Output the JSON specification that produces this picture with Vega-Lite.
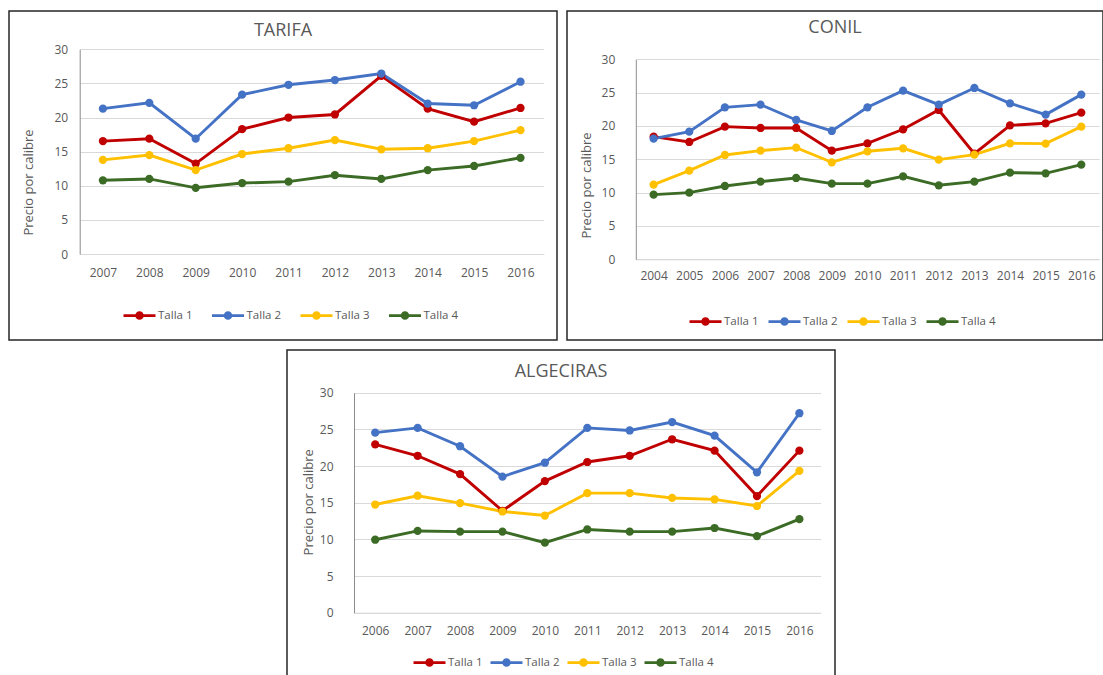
{
  "$schema": "https://vega.github.io/schema/vega-lite/v6.json",
  "padding": {"left": 8, "top": 10, "right": 0, "bottom": 0},
  "background": "white",
  "spacing": 8,
  "resolve": {"scale": {"x": "independent", "y": "independent", "color": "independent"}, "legend": {"color": "independent"}},
  "datasets": {
    "rows": [
      {"site": "TARIFA", "year": "2007", "talla": "Talla 1", "precio": 16.55},
      {"site": "TARIFA", "year": "2008", "talla": "Talla 1", "precio": 16.9},
      {"site": "TARIFA", "year": "2009", "talla": "Talla 1", "precio": 13.25},
      {"site": "TARIFA", "year": "2010", "talla": "Talla 1", "precio": 18.3},
      {"site": "TARIFA", "year": "2011", "talla": "Talla 1", "precio": 20.0},
      {"site": "TARIFA", "year": "2012", "talla": "Talla 1", "precio": 20.45},
      {"site": "TARIFA", "year": "2013", "talla": "Talla 1", "precio": 26.1},
      {"site": "TARIFA", "year": "2014", "talla": "Talla 1", "precio": 21.3},
      {"site": "TARIFA", "year": "2015", "talla": "Talla 1", "precio": 19.4},
      {"site": "TARIFA", "year": "2016", "talla": "Talla 1", "precio": 21.4},
      {"site": "TARIFA", "year": "2007", "talla": "Talla 2", "precio": 21.3},
      {"site": "TARIFA", "year": "2008", "talla": "Talla 2", "precio": 22.15},
      {"site": "TARIFA", "year": "2009", "talla": "Talla 2", "precio": 16.9},
      {"site": "TARIFA", "year": "2010", "talla": "Talla 2", "precio": 23.35},
      {"site": "TARIFA", "year": "2011", "talla": "Talla 2", "precio": 24.8},
      {"site": "TARIFA", "year": "2012", "talla": "Talla 2", "precio": 25.5},
      {"site": "TARIFA", "year": "2013", "talla": "Talla 2", "precio": 26.45},
      {"site": "TARIFA", "year": "2014", "talla": "Talla 2", "precio": 22.05},
      {"site": "TARIFA", "year": "2015", "talla": "Talla 2", "precio": 21.8},
      {"site": "TARIFA", "year": "2016", "talla": "Talla 2", "precio": 25.25},
      {"site": "TARIFA", "year": "2007", "talla": "Talla 3", "precio": 13.8},
      {"site": "TARIFA", "year": "2008", "talla": "Talla 3", "precio": 14.5},
      {"site": "TARIFA", "year": "2009", "talla": "Talla 3", "precio": 12.3},
      {"site": "TARIFA", "year": "2010", "talla": "Talla 3", "precio": 14.65},
      {"site": "TARIFA", "year": "2011", "talla": "Talla 3", "precio": 15.5},
      {"site": "TARIFA", "year": "2012", "talla": "Talla 3", "precio": 16.7},
      {"site": "TARIFA", "year": "2013", "talla": "Talla 3", "precio": 15.35},
      {"site": "TARIFA", "year": "2014", "talla": "Talla 3", "precio": 15.5},
      {"site": "TARIFA", "year": "2015", "talla": "Talla 3", "precio": 16.55},
      {"site": "TARIFA", "year": "2016", "talla": "Talla 3", "precio": 18.15},
      {"site": "TARIFA", "year": "2007", "talla": "Talla 4", "precio": 10.8},
      {"site": "TARIFA", "year": "2008", "talla": "Talla 4", "precio": 11.0},
      {"site": "TARIFA", "year": "2009", "talla": "Talla 4", "precio": 9.7},
      {"site": "TARIFA", "year": "2010", "talla": "Talla 4", "precio": 10.4},
      {"site": "TARIFA", "year": "2011", "talla": "Talla 4", "precio": 10.6},
      {"site": "TARIFA", "year": "2012", "talla": "Talla 4", "precio": 11.55},
      {"site": "TARIFA", "year": "2013", "talla": "Talla 4", "precio": 11.0},
      {"site": "TARIFA", "year": "2014", "talla": "Talla 4", "precio": 12.3},
      {"site": "TARIFA", "year": "2015", "talla": "Talla 4", "precio": 12.9},
      {"site": "TARIFA", "year": "2016", "talla": "Talla 4", "precio": 14.1},

      {"site": "CONIL", "year": "2004", "talla": "Talla 1", "precio": 18.4},
      {"site": "CONIL", "year": "2005", "talla": "Talla 1", "precio": 17.6},
      {"site": "CONIL", "year": "2006", "talla": "Talla 1", "precio": 19.9},
      {"site": "CONIL", "year": "2007", "talla": "Talla 1", "precio": 19.7},
      {"site": "CONIL", "year": "2008", "talla": "Talla 1", "precio": 19.7},
      {"site": "CONIL", "year": "2009", "talla": "Talla 1", "precio": 16.3},
      {"site": "CONIL", "year": "2010", "talla": "Talla 1", "precio": 17.4},
      {"site": "CONIL", "year": "2011", "talla": "Talla 1", "precio": 19.5},
      {"site": "CONIL", "year": "2012", "talla": "Talla 1", "precio": 22.4},
      {"site": "CONIL", "year": "2013", "talla": "Talla 1", "precio": 15.85},
      {"site": "CONIL", "year": "2014", "talla": "Talla 1", "precio": 20.1},
      {"site": "CONIL", "year": "2015", "talla": "Talla 1", "precio": 20.4},
      {"site": "CONIL", "year": "2016", "talla": "Talla 1", "precio": 22.0},
      {"site": "CONIL", "year": "2004", "talla": "Talla 2", "precio": 18.1},
      {"site": "CONIL", "year": "2005", "talla": "Talla 2", "precio": 19.15},
      {"site": "CONIL", "year": "2006", "talla": "Talla 2", "precio": 22.8},
      {"site": "CONIL", "year": "2007", "talla": "Talla 2", "precio": 23.2},
      {"site": "CONIL", "year": "2008", "talla": "Talla 2", "precio": 20.9},
      {"site": "CONIL", "year": "2009", "talla": "Talla 2", "precio": 19.25},
      {"site": "CONIL", "year": "2010", "talla": "Talla 2", "precio": 22.8},
      {"site": "CONIL", "year": "2011", "talla": "Talla 2", "precio": 25.3},
      {"site": "CONIL", "year": "2012", "talla": "Talla 2", "precio": 23.2},
      {"site": "CONIL", "year": "2013", "talla": "Talla 2", "precio": 25.7},
      {"site": "CONIL", "year": "2014", "talla": "Talla 2", "precio": 23.4},
      {"site": "CONIL", "year": "2015", "talla": "Talla 2", "precio": 21.7},
      {"site": "CONIL", "year": "2016", "talla": "Talla 2", "precio": 24.7},
      {"site": "CONIL", "year": "2004", "talla": "Talla 3", "precio": 11.2},
      {"site": "CONIL", "year": "2005", "talla": "Talla 3", "precio": 13.3},
      {"site": "CONIL", "year": "2006", "talla": "Talla 3", "precio": 15.65},
      {"site": "CONIL", "year": "2007", "talla": "Talla 3", "precio": 16.3},
      {"site": "CONIL", "year": "2008", "talla": "Talla 3", "precio": 16.75},
      {"site": "CONIL", "year": "2009", "talla": "Talla 3", "precio": 14.55},
      {"site": "CONIL", "year": "2010", "talla": "Talla 3", "precio": 16.2},
      {"site": "CONIL", "year": "2011", "talla": "Talla 3", "precio": 16.65},
      {"site": "CONIL", "year": "2012", "talla": "Talla 3", "precio": 14.95},
      {"site": "CONIL", "year": "2013", "talla": "Talla 3", "precio": 15.7},
      {"site": "CONIL", "year": "2014", "talla": "Talla 3", "precio": 17.4},
      {"site": "CONIL", "year": "2015", "talla": "Talla 3", "precio": 17.35},
      {"site": "CONIL", "year": "2016", "talla": "Talla 3", "precio": 19.9},
      {"site": "CONIL", "year": "2004", "talla": "Talla 4", "precio": 9.7},
      {"site": "CONIL", "year": "2005", "talla": "Talla 4", "precio": 10.0},
      {"site": "CONIL", "year": "2006", "talla": "Talla 4", "precio": 11.0},
      {"site": "CONIL", "year": "2007", "talla": "Talla 4", "precio": 11.65},
      {"site": "CONIL", "year": "2008", "talla": "Talla 4", "precio": 12.2},
      {"site": "CONIL", "year": "2009", "talla": "Talla 4", "precio": 11.35},
      {"site": "CONIL", "year": "2010", "talla": "Talla 4", "precio": 11.35},
      {"site": "CONIL", "year": "2011", "talla": "Talla 4", "precio": 12.45},
      {"site": "CONIL", "year": "2012", "talla": "Talla 4", "precio": 11.1},
      {"site": "CONIL", "year": "2013", "talla": "Talla 4", "precio": 11.65},
      {"site": "CONIL", "year": "2014", "talla": "Talla 4", "precio": 13.0},
      {"site": "CONIL", "year": "2015", "talla": "Talla 4", "precio": 12.9},
      {"site": "CONIL", "year": "2016", "talla": "Talla 4", "precio": 14.2},

      {"site": "ALGECIRAS", "year": "2006", "talla": "Talla 1", "precio": 22.95},
      {"site": "ALGECIRAS", "year": "2007", "talla": "Talla 1", "precio": 21.4},
      {"site": "ALGECIRAS", "year": "2008", "talla": "Talla 1", "precio": 18.9},
      {"site": "ALGECIRAS", "year": "2009", "talla": "Talla 1", "precio": 13.9},
      {"site": "ALGECIRAS", "year": "2010", "talla": "Talla 1", "precio": 17.95},
      {"site": "ALGECIRAS", "year": "2011", "talla": "Talla 1", "precio": 20.55},
      {"site": "ALGECIRAS", "year": "2012", "talla": "Talla 1", "precio": 21.4},
      {"site": "ALGECIRAS", "year": "2013", "talla": "Talla 1", "precio": 23.65},
      {"site": "ALGECIRAS", "year": "2014", "talla": "Talla 1", "precio": 22.1},
      {"site": "ALGECIRAS", "year": "2015", "talla": "Talla 1", "precio": 15.9},
      {"site": "ALGECIRAS", "year": "2016", "talla": "Talla 1", "precio": 22.1},
      {"site": "ALGECIRAS", "year": "2006", "talla": "Talla 2", "precio": 24.55},
      {"site": "ALGECIRAS", "year": "2007", "talla": "Talla 2", "precio": 25.2},
      {"site": "ALGECIRAS", "year": "2008", "talla": "Talla 2", "precio": 22.7},
      {"site": "ALGECIRAS", "year": "2009", "talla": "Talla 2", "precio": 18.55},
      {"site": "ALGECIRAS", "year": "2010", "talla": "Talla 2", "precio": 20.45},
      {"site": "ALGECIRAS", "year": "2011", "talla": "Talla 2", "precio": 25.2},
      {"site": "ALGECIRAS", "year": "2012", "talla": "Talla 2", "precio": 24.85},
      {"site": "ALGECIRAS", "year": "2013", "talla": "Talla 2", "precio": 26.0},
      {"site": "ALGECIRAS", "year": "2014", "talla": "Talla 2", "precio": 24.15},
      {"site": "ALGECIRAS", "year": "2015", "talla": "Talla 2", "precio": 19.15},
      {"site": "ALGECIRAS", "year": "2016", "talla": "Talla 2", "precio": 27.2},
      {"site": "ALGECIRAS", "year": "2006", "talla": "Talla 3", "precio": 14.75},
      {"site": "ALGECIRAS", "year": "2007", "talla": "Talla 3", "precio": 15.95},
      {"site": "ALGECIRAS", "year": "2008", "talla": "Talla 3", "precio": 14.95},
      {"site": "ALGECIRAS", "year": "2009", "talla": "Talla 3", "precio": 13.8},
      {"site": "ALGECIRAS", "year": "2010", "talla": "Talla 3", "precio": 13.25},
      {"site": "ALGECIRAS", "year": "2011", "talla": "Talla 3", "precio": 16.3},
      {"site": "ALGECIRAS", "year": "2012", "talla": "Talla 3", "precio": 16.3},
      {"site": "ALGECIRAS", "year": "2013", "talla": "Talla 3", "precio": 15.65},
      {"site": "ALGECIRAS", "year": "2014", "talla": "Talla 3", "precio": 15.45},
      {"site": "ALGECIRAS", "year": "2015", "talla": "Talla 3", "precio": 14.55},
      {"site": "ALGECIRAS", "year": "2016", "talla": "Talla 3", "precio": 19.35},
      {"site": "ALGECIRAS", "year": "2006", "talla": "Talla 4", "precio": 9.95},
      {"site": "ALGECIRAS", "year": "2007", "talla": "Talla 4", "precio": 11.15},
      {"site": "ALGECIRAS", "year": "2008", "talla": "Talla 4", "precio": 11.05},
      {"site": "ALGECIRAS", "year": "2009", "talla": "Talla 4", "precio": 11.05},
      {"site": "ALGECIRAS", "year": "2010", "talla": "Talla 4", "precio": 9.55},
      {"site": "ALGECIRAS", "year": "2011", "talla": "Talla 4", "precio": 11.35},
      {"site": "ALGECIRAS", "year": "2012", "talla": "Talla 4", "precio": 11.05},
      {"site": "ALGECIRAS", "year": "2013", "talla": "Talla 4", "precio": 11.05},
      {"site": "ALGECIRAS", "year": "2014", "talla": "Talla 4", "precio": 11.55},
      {"site": "ALGECIRAS", "year": "2015", "talla": "Talla 4", "precio": 10.45},
      {"site": "ALGECIRAS", "year": "2016", "talla": "Talla 4", "precio": 12.75}
    ]
  },
  "config": {
    "font": "Open Sans",
    "view": {"stroke": "#262626", "strokeWidth": 1.5},
    "title": {"font": "Open Sans", "fontSize": 18, "fontWeight": "normal", "color": "#595959", "anchor": "middle", "frame": "group", "baseline": "middle"},
    "axis": {"labelFont": "Open Sans", "labelFontSize": 12, "labelColor": "#595959", "titleFont": "Open Sans", "titleFontSize": 13, "titleFontWeight": "normal", "titleColor": "#595959", "ticks": false, "tickSize": 0, "gridColor": "#d9d9d9", "gridWidth": 1, "domainColor": "#8c8c8c", "domainWidth": 1},
    "axisX": {"grid": false, "labelAngle": 0, "domainColor": "#d9d9d9", "labelPadding": 13},
    "axisY": {"grid": true, "titleBaseline": "middle", "titleAlign": "center", "titleAngle": -90},
    "legend": {"labelFont": "Open Sans", "labelFontSize": 11.5, "labelColor": "#595959", "symbolStrokeWidth": 2.75, "symbolSize": 1024, "symbolType": "M-1,0L1,0M-0.18,0A0.18,0.18,0,1,0,0.18,0A0.18,0.18,0,1,0,-0.18,0M-0.07,0A0.07,0.07,0,1,0,0.07,0A0.07,0.07,0,1,0,-0.07,0", "labelOffset": 1, "direction": "horizontal", "orient": "none", "padding": 0, "rowPadding": 0}
  },
  "vconcat": [
    {
      "hconcat": [
        {
          "width": 548, "height": 329,
          "data": {"name": "rows"},
          "transform": [{"filter": "datum.site === 'TARIFA'"}],
          "title": {"text": "TARIFA", "offset": -29.4},
          "encoding": {
            "x": {"field": "year", "type": "ordinal", "scale": {"type": "point", "range": [70.7, 534.7], "padding": 0.5}, "axis": {"title": null, "offset": -86}},
            "y": {"field": "precio", "type": "quantitative", "scale": {"domain": [0, 30], "range": [243, 38.3], "nice": false, "zero": true}, "axis": {"values": [0, 5, 10, 15, 20, 25, 30], "offset": -70.7, "labelPadding": 12, "title": "Precio por calibre", "titleX": -50.7, "titleY": 171}}
          },
          "layer": [
            {"mark": {"type": "line", "strokeWidth": 2.9}, "encoding": {"color": {"field": "talla", "type": "nominal", "scale": {"domain": ["Talla 1", "Talla 2", "Talla 3", "Talla 4"], "range": ["#c00000", "#4472c4", "#ffc000", "#3b6b25"]}, "legend": {"title": null, "legendX": 113, "legendY": 287, "columnPadding": 13.5}}}},
            {"mark": {"type": "point", "filled": true, "size": 68, "opacity": 1}, "encoding": {"color": {"field": "talla", "type": "nominal", "legend": null}}}
          ]
        },
        {
          "width": 536, "height": 329,
          "data": {"name": "rows"},
          "transform": [{"filter": "datum.site === 'CONIL'"}],
          "title": {"text": "CONIL", "offset": -25.6},
          "encoding": {
            "x": {"field": "year", "type": "ordinal", "scale": {"type": "point", "range": [68.8, 532.1], "padding": 0.5}, "axis": {"title": null, "offset": -80.7, "labelPadding": 11}},
            "y": {"field": "precio", "type": "quantitative", "scale": {"domain": [0, 30], "range": [248.3, 48.3], "nice": false, "zero": true}, "axis": {"values": [0, 5, 10, 15, 20, 25, 30], "offset": -68.8, "labelPadding": 21, "title": "Precio por calibre", "titleX": -49.5, "titleY": 174}}
          },
          "layer": [
            {"mark": {"type": "line", "strokeWidth": 2.9}, "encoding": {"color": {"field": "talla", "type": "nominal", "scale": {"domain": ["Talla 1", "Talla 2", "Talla 3", "Talla 4"], "range": ["#c00000", "#4472c4", "#ffc000", "#3b6b25"]}, "legend": {"title": null, "legendX": 121, "legendY": 293, "columnPadding": 4}}}},
            {"mark": {"type": "point", "filled": true, "size": 68, "opacity": 1}, "encoding": {"color": {"field": "talla", "type": "nominal", "legend": null}}}
          ]
        }
      ],
      "spacing": 10,
      "bounds": "flush",
      "resolve": {"scale": {"x": "independent", "y": "independent", "color": "independent"}, "legend": {"color": "independent"}}
    },
    {
      "hconcat": [
        {
          "width": 277.7, "height": 326,
          "data": {"values": [{"a": 0}]},
          "mark": {"type": "point", "opacity": 0},
          "view": {"stroke": null}
        },
        {
          "width": 548, "height": 326,
          "data": {"name": "rows"},
          "transform": [{"filter": "datum.site === 'ALGECIRAS'"}],
          "title": {"text": "ALGECIRAS", "offset": -30.5},
          "encoding": {
            "x": {"field": "year", "type": "ordinal", "scale": {"type": "point", "range": [67, 533.6], "padding": 0.5}, "axis": {"title": null, "offset": -63.3}},
            "y": {"field": "precio", "type": "quantitative", "scale": {"domain": [0, 30], "range": [262.7, 42.7], "nice": false, "zero": true}, "axis": {"values": [0, 5, 10, 15, 20, 25, 30], "offset": -67, "labelPadding": 21, "title": "Precio por calibre", "titleX": -45.2, "titleY": 151.8}}
          },
          "layer": [
            {"mark": {"type": "line", "strokeWidth": 2.9}, "encoding": {"color": {"field": "talla", "type": "nominal", "scale": {"domain": ["Talla 1", "Talla 2", "Talla 3", "Talla 4"], "range": ["#c00000", "#4472c4", "#ffc000", "#3b6b25"]}, "legend": {"title": null, "legendX": 125, "legendY": 295, "columnPadding": 2}}}},
            {"mark": {"type": "point", "filled": true, "size": 68, "opacity": 1}, "encoding": {"color": {"field": "talla", "type": "nominal", "legend": null}}}
          ]
        }
      ],
      "spacing": 0,
      "bounds": "flush",
      "resolve": {"scale": {"x": "independent", "y": "independent", "color": "independent"}, "legend": {"color": "independent"}}
    }
  ]
}
